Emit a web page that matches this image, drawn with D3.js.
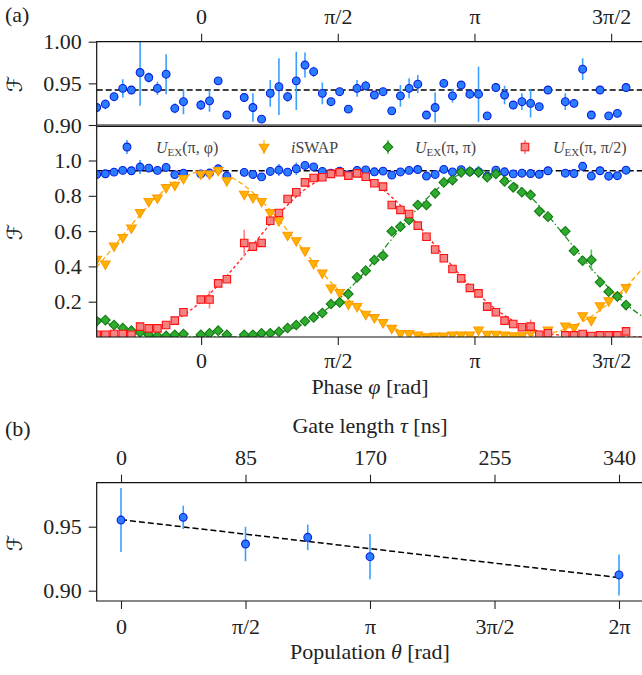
<!DOCTYPE html>
<html>
<head>
<meta charset="utf-8">
<script src="https://cdn.jsdelivr.net/npm/d3@7"></script>
<style>
  body { margin: 0; background: #fff; }
</style>
</head>
<body>
<div id="chart"></div>
<script>
// ---- panel (a): phase sweep, 64 settings over one period starting at -1.2 rad
const phaseStart = -1.2;
const phaseStep = 2 * Math.PI / 63;
const phases = d3.range(64).map(i => phaseStart + i * phaseStep);

const phaseTicks = [0, Math.PI / 2, Math.PI, 3 * Math.PI / 2];
const phaseTickLabels = ["0", "π/2", "π", "3π/2"];

// U_EX(pi, phi)  (blue)
const uexPhi = [0.921, 0.925, 0.934, 0.944, 0.942, 0.963, 0.957, 0.944, 0.961, 0.920,
  0.928, null, 0.924, 0.929, 0.953, 0.912, null, 0.933, 0.921, 0.907,
  0.938, 0.946, 0.934, 0.953, 0.972, 0.964, 0.938, 0.928, 0.940, 0.919,
  0.944, 0.947, 0.936, 0.940, 0.917, 0.935, 0.944, 0.949, 0.912, 0.921,
  0.950, 0.935, 0.948, 0.937, 0.937, 0.911, 0.945, 0.936, 0.924, 0.928,
  0.926, 0.922, 0.942, null, 0.928, 0.926, 0.967, 0.912, 0.942, 0.911,
  0.914, 0.945, null, null];
const uexPhiErr = [0.004, 0.006, 0.005, 0.011, 0.005, 0.040, 0.006, 0.008, 0.024, 0.006,
  0.015, null, 0.006, 0.013, 0.004, 0.004, null, 0.004, 0.017, 0.004,
  0.016, 0.034, 0.006, 0.035, 0.015, 0.006, 0.013, 0.004, 0.004, 0.004,
  0.010, 0.006, 0.004, 0.004, 0.004, 0.013, 0.012, 0.011, 0.004, 0.018,
  0.004, 0.008, 0.004, 0.004, 0.033, 0.004, 0.004, 0.011, 0.004, 0.010,
  0.017, 0.004, 0.004, null, 0.010, 0.004, 0.013, 0.004, 0.004, 0.004,
  0.004, 0.004, null, null];
const meanFidelity = 0.942;

// iSWAP (yellow)
const iswap = [0.442, 0.414, 0.517, 0.565, 0.618, 0.706, 0.769, 0.788, 0.848, 0.861,
  0.899, null, 0.924, 0.924, 0.945, 0.886, null, 0.810, 0.791, 0.769,
  0.706, 0.659, 0.578, 0.546, 0.489, 0.417, 0.363, 0.278, 0.253, 0.187,
  0.174, 0.130, 0.111, 0.083, 0.050, 0.021, 0.021, 0.013, 0.002, 0.006,
  0.006, 0.013, 0.013, 0.013, 0.040, 0.017, 0.017, 0.013, 0.008, 0.008,
  0.026, 0.013, 0.040, null, 0.064, 0.055, 0.121, 0.096, 0.178, 0.206,
  0.235, 0.281, null, null];

// U_EX(pi, pi) (green)
const uexPi = [0.089, 0.096, 0.068, 0.051, 0.036, 0.026, 0.013, 0.006, 0.006, 0.013,
  0.017, null, 0.013, 0.021, 0.036, 0.013, null, 0.013, 0.013, 0.021,
  0.021, 0.030, 0.051, 0.068, 0.089, 0.111, 0.136, 0.187, 0.196, 0.244,
  0.338, 0.376, 0.436, 0.461, 0.599, 0.625, 0.663, 0.748, 0.748, 0.814,
  0.876, 0.889, 0.933, 0.937, 0.933, 0.905, 0.924, 0.882, 0.848, 0.820,
  0.805, 0.712, 0.682, null, 0.599, 0.489, 0.432, 0.436, 0.310, 0.257,
  0.230, 0.181, null, null];

// U_EX(pi, pi/2) (red)
const uexHalfPi = [0.013, 0.013, 0.017, 0.017, 0.013, 0.059, 0.049, 0.049, 0.068, 0.093,
  0.140, null, 0.212, 0.212, 0.304, 0.327, null, 0.533, 0.512, 0.533,
  0.659, 0.703, 0.782, 0.820, 0.876, 0.901, 0.905, 0.924, 0.933, 0.914,
  0.927, 0.908, 0.871, 0.852, 0.748, 0.720, 0.697, 0.631, 0.568, 0.496,
  0.446, 0.385, 0.332, 0.278, 0.247, 0.172, 0.140, 0.093, 0.074, 0.055,
  0.059, 0.013, 0.021, null, 0.009, 0.009, 0.017, 0.006, 0.009, 0.009,
  0.009, 0.032, null, null];

// visible error bars of the oscillating series: [index, half width]
const iswapErr = [[44, 0.02], [50, 0.015]];
const uexPiErr = [[57, 0.06], [61, 0.02]];
const uexHalfPiErr = [[13, 0.05], [17, 0.075], [39, 0.02], [47, 0.015], [50, 0.04], [56, 0.02]];

// fitted curves A*cos^4((phi - c)/2): [amplitude, centre]
const iswapFit = [0.94, 0.07];
const uexPiFit = [0.945, 3.20];
const uexHalfPiFit = [0.925, 1.64];

// ---- panel (b): fidelity vs population
const popTheta = [0, Math.PI / 4, Math.PI / 2, 3 * Math.PI / 4, Math.PI, 2 * Math.PI];
const popFid = [0.9552, 0.9573, 0.9365, 0.9417, 0.9266, 0.9123];
const popErr = [0.025, 0.009, 0.0135, 0.010, 0.0177, 0.016];
const popFit = [0.9555, 0.9102];   // line value at theta = 0 and theta = 2pi
const thetaTicks = [0, Math.PI / 2, Math.PI, 3 * Math.PI / 2, 2 * Math.PI];
const thetaTickLabels = ["0", "π/2", "π", "3π/2", "2π"];
const gateTicks = [0, 85, 170, 255, 340];

const W = 642, H = 675;
const left = 96.7, right = 650;
const serif = "Liberation Serif, DejaVu Serif, serif";

const svg = d3.select("#chart").append("svg")
  .attr("width", W).attr("height", H)
  .attr("viewBox", `0 0 ${W} ${H}`)
  .attr("font-family", serif);

const col = {
  blue: {fill: "#2a7dff", stroke: "#0a1fe0", err: "#3aa0ff"},
  yellow: {fill: "#ffb300", stroke: "#ff9a00", line: "#ffaa00", err: "#ffc640"},
  green: {fill: "#2fac2f", stroke: "#137a13", line: "#1f8f1f", err: "#55cc55"},
  red: {fill: "#f48484", stroke: "#ff1010", line: "#ff2020", err: "#ff8080"}
};

const x = d3.scaleLinear().domain([phaseStart, phaseStart + 2 * Math.PI]).range([left, 643.4]);
const yTop = d3.scaleLinear().domain([0.90, 1.00]).range([125, 41.7]);
const yLow = d3.scaleLinear().domain([0, 1]).range([337, 160.5]);

const panels = [
  {id: "clipTop", y0: 41.7, y1: 125},
  {id: "clipLow", y0: 126.3, y1: 337},
  {id: "clipB", y0: 482.7, y1: 601}
];
const defs = svg.append("defs");
panels.forEach(p => {
  defs.append("clipPath").attr("id", p.id)
    .append("rect").attr("x", left).attr("y", p.y0)
    .attr("width", right - left).attr("height", p.y1 - p.y0);
});

function styleAxis(g) {
  g.attr("font-size", 22).attr("font-family", serif);
  g.select(".domain").remove();
  g.selectAll(".tick line").attr("stroke", "#222").attr("stroke-width", 1.1);
  g.selectAll(".tick text").attr("fill", "#222");
}

function marker(g, shape, cx, cy, c) {
  if (shape === "circle") {
    g.append("circle").attr("cx", cx).attr("cy", cy).attr("r", 3.9)
      .attr("fill", c.fill).attr("stroke", c.stroke).attr("stroke-width", 1.1);
  } else {
    const sym = {tri: d3.symbolTriangle, diamond: d3.symbolSquare, square: d3.symbolSquare}[shape];
    const size = {tri: 40, diamond: 46, square: 56}[shape];
    const rot = {tri: " rotate(180)", diamond: " rotate(45)", square: ""}[shape];
    g.append("path").attr("d", d3.symbol(sym, size)())
      .attr("transform", `translate(${cx},${cy})` + rot)
      .attr("fill", c.fill).attr("stroke", c.stroke).attr("stroke-width", 1.1);
  }
}

function series(g, y, values, errs, shape, c) {
  const pts = values.map((v, i) => ({phi: phases[i], v, e: errs ? errs[i] : null}))
    .filter(d => d.v !== null);
  g.append("g").selectAll("line")
    .data(pts.filter(d => d.e))
    .join("line")
      .attr("x1", d => x(d.phi)).attr("x2", d => x(d.phi))
      .attr("y1", d => y(d.v - d.e)).attr("y2", d => y(d.v + d.e))
      .attr("stroke", c.err).attr("stroke-width", 1.6);
  const mg = g.append("g");
  pts.forEach(d => marker(mg, shape, x(d.phi), y(d.v), c));
}

function sparseErr(list, values) {
  const out = values.map(() => null);
  list.forEach(([i, e]) => { out[i] = e; });
  return out;
}

function fitCurve(g, fit, c, dash) {
  const pts = d3.range(0, 401).map(k => phaseStart + k * 2 * Math.PI / 400);
  const line = d3.line()
    .x(p => x(p))
    .y(p => yLow(fit[0] * Math.pow(Math.cos((p - fit[1]) / 2), 4)));
  g.append("path").datum(pts).attr("d", line)
    .attr("fill", "none").attr("stroke", c).attr("stroke-width", 1.3)
    .attr("stroke-dasharray", dash);
}

// ===== panel (a), top strip
const gTop = svg.append("g").attr("clip-path", "url(#clipTop)");
gTop.append("line")
  .attr("x1", left).attr("x2", right)
  .attr("y1", yTop(meanFidelity)).attr("y2", yTop(meanFidelity))
  .attr("stroke", "#000").attr("stroke-width", 1.5).attr("stroke-dasharray", "6,3");
series(gTop, yTop, uexPhi, uexPhiErr, "circle", col.blue);

svg.append("g")
  .attr("transform", "translate(0,41.7)")
  .call(d3.axisTop(x).tickValues(phaseTicks).tickFormat((d, i) => phaseTickLabels[i])
    .tickSize(8).tickPadding(10))
  .call(styleAxis);
svg.append("g")
  .attr("transform", `translate(${left},0)`)
  .call(d3.axisLeft(yTop).tickValues([0.90, 0.95, 1.00]).tickFormat(d3.format(".2f"))
    .tickSize(8).tickPadding(7))
  .call(styleAxis);
svg.append("path")
  .attr("d", `M${right},41.7H${left}V125H${right}`)
  .attr("fill", "none").attr("stroke", "#111").attr("stroke-width", 1.2);

// ===== panel (a), main
const gLow = svg.append("g").attr("clip-path", "url(#clipLow)");
gLow.append("line")
  .attr("x1", left).attr("x2", right)
  .attr("y1", yLow(meanFidelity)).attr("y2", yLow(meanFidelity))
  .attr("stroke", "#000").attr("stroke-width", 1.5).attr("stroke-dasharray", "6,3");
fitCurve(gLow, iswapFit, col.yellow.line, "5,3");
fitCurve(gLow, uexPiFit, col.green.line, "6,2.5,1.5,2.5");
fitCurve(gLow, uexHalfPiFit, col.red.line, "3,2.5");
series(gLow, yLow, uexPhi, uexPhiErr, "circle", col.blue);
series(gLow, yLow, iswap, sparseErr(iswapErr, iswap), "tri", col.yellow);
series(gLow, yLow, uexPi, sparseErr(uexPiErr, uexPi), "diamond", col.green);
series(gLow, yLow, uexHalfPi, sparseErr(uexHalfPiErr, uexHalfPi), "square", col.red);

svg.append("g")
  .attr("transform", "translate(0,337)")
  .call(d3.axisBottom(x).tickValues(phaseTicks).tickFormat((d, i) => phaseTickLabels[i])
    .tickSize(8).tickPadding(7))
  .call(styleAxis);
svg.append("g")
  .attr("transform", `translate(${left},0)`)
  .call(d3.axisLeft(yLow).tickValues([0.2, 0.4, 0.6, 0.8, 1.0]).tickFormat(d3.format(".1f"))
    .tickSize(8).tickPadding(7))
  .call(styleAxis);
svg.append("path")
  .attr("d", `M${right},126.3H${left}V337H${right}`)
  .attr("fill", "none").attr("stroke", "#111").attr("stroke-width", 1.2);

// legend
const legendItems = [
  {shape: "circle", c: col.blue, x: 127, tx: 156, main: "U", sub: "EX", rest: "(π, φ)"},
  {shape: "tri", c: col.yellow, x: 264, tx: 291, main: "i", sub: "", rest: "SWAP"},
  {shape: "diamond", c: col.green, x: 388, tx: 415, main: "U", sub: "EX", rest: "(π, π)"},
  {shape: "square", c: col.red, x: 525, tx: 553, main: "U", sub: "EX", rest: "(π, π/2)"}
];
const leg = svg.append("g");
legendItems.forEach(d => {
  leg.append("line").attr("x1", d.x).attr("x2", d.x).attr("y1", 140).attr("y2", 154)
    .attr("stroke", d.c.err || d.c.stroke).attr("stroke-width", 1.6);
  marker(leg, d.shape, d.x, 147, d.c);
  const t = leg.append("text").attr("x", d.tx).attr("y", 153)
    .attr("font-size", 16).attr("fill", "#444");
  t.append("tspan").attr("font-style", "italic").text(d.main);
  if (d.sub) {
    t.append("tspan").attr("font-size", 11).attr("dy", 3).text(d.sub);
    t.append("tspan").attr("dy", -3).text(d.rest);
  } else {
    t.append("tspan").text(d.rest);
  }
});

// titles of panel (a)
svg.append("text").attr("x", 5).attr("y", 22).attr("font-size", 22).attr("fill", "#222").text("(a)");
const phLab = svg.append("text").attr("x", 370).attr("y", 394).attr("text-anchor", "middle")
  .attr("font-size", 22).attr("fill", "#222");
phLab.append("tspan").text("Phase ");
phLab.append("tspan").attr("font-style", "italic").text("φ");
phLab.append("tspan").text(" [rad]");

function fLabel(cy) {
  svg.append("text")
    .attr("transform", `translate(22,${cy}) rotate(-90)`)
    .attr("text-anchor", "middle")
    .attr("font-family", "DejaVu Serif, DejaVu Sans, serif")
    .attr("font-style", "italic")
    .attr("font-size", 21).attr("fill", "#222")
    .text("ℱ");
}
fLabel(84);
fLabel(232);
fLabel(543);

// ===== panel (b)
const xb = d3.scaleLinear().domain([0, 2 * Math.PI]).range([121, 619]);
const tau = d3.scaleLinear().domain([0, 340]).range([121, 619]);
const yb = d3.scaleLinear().domain([0.90, 0.95]).range([590.7, 526.7]);

const gB = svg.append("g").attr("clip-path", "url(#clipB)");
gB.append("line")
  .attr("x1", xb(0)).attr("x2", xb(2 * Math.PI))
  .attr("y1", yb(popFit[0])).attr("y2", yb(popFit[1]))
  .attr("stroke", "#000").attr("stroke-width", 1.5).attr("stroke-dasharray", "6,3");
gB.append("g").selectAll("line")
  .data(popTheta)
  .join("line")
    .attr("x1", d => xb(d)).attr("x2", d => xb(d))
    .attr("y1", (d, i) => yb(popFid[i] - popErr[i]))
    .attr("y2", (d, i) => yb(popFid[i] + popErr[i]))
    .attr("stroke", col.blue.err).attr("stroke-width", 1.6);
const mb = gB.append("g");
popTheta.forEach((t, i) => marker(mb, "circle", xb(t), yb(popFid[i]), col.blue));

svg.append("g")
  .attr("transform", "translate(0,482.7)")
  .call(d3.axisTop(tau).tickValues(gateTicks).tickSize(8).tickPadding(10))
  .call(styleAxis);
svg.append("g")
  .attr("transform", "translate(0,601)")
  .call(d3.axisBottom(xb).tickValues(thetaTicks).tickFormat((d, i) => thetaTickLabels[i])
    .tickSize(8).tickPadding(9))
  .call(styleAxis);
svg.append("g")
  .attr("transform", `translate(${left},0)`)
  .call(d3.axisLeft(yb).tickValues([0.90, 0.95]).tickFormat(d3.format(".2f"))
    .tickSize(8).tickPadding(7))
  .call(styleAxis);
svg.append("path")
  .attr("d", `M${right},482.7H${left}V601H${right}`)
  .attr("fill", "none").attr("stroke", "#111").attr("stroke-width", 1.2);

svg.append("text").attr("x", 5).attr("y", 436).attr("font-size", 22).attr("fill", "#222").text("(b)");
const gLab = svg.append("text").attr("x", 370).attr("y", 433).attr("text-anchor", "middle")
  .attr("font-size", 22).attr("fill", "#222");
gLab.append("tspan").text("Gate length ");
gLab.append("tspan").attr("font-style", "italic").text("τ");
gLab.append("tspan").text(" [ns]");
const pLab = svg.append("text").attr("x", 370).attr("y", 659).attr("text-anchor", "middle")
  .attr("font-size", 22).attr("fill", "#222");
pLab.append("tspan").text("Population ");
pLab.append("tspan").attr("font-style", "italic").text("θ");
pLab.append("tspan").text(" [rad]");
</script>
</body>
</html>
